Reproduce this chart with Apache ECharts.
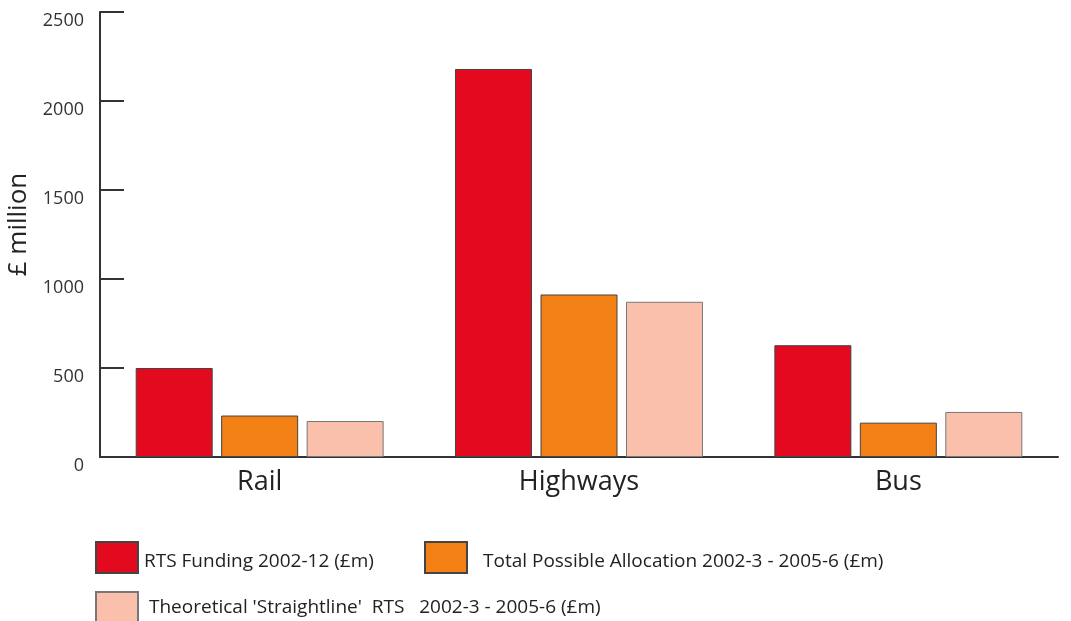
<!DOCTYPE html>
<html>
<head>
<meta charset="utf-8">
<script src="https://cdn.jsdelivr.net/npm/echarts@6/dist/echarts.min.js"></script>
<style>
  html, body { margin: 0; padding: 0; background: #fff; }
  #chart { width: 1071px; height: 621px; }
</style>
</head>
<body>
<div id="chart"></div>
<script>
// Transport funding by mode (£ million)
const categories = ['Rail', 'Highways', 'Bus'];
const rtsFunding = [500, 2180, 628];
const totalPossible = [233, 913, 193];
const straightline = [202, 872, 253];
const yTicks = { min: 0, max: 2500, step: 500 };

const seriesNames = [
  'RTS Funding 2002-12 (£m)',
  'Total Possible Allocation 2002-3 - 2005-6 (£m)',
  "Theoretical 'Straightline'  RTS   2002-3 - 2005-6 (£m)"
];

const FONT = '"Open Sans", "Noto Sans", sans-serif';
const AXIS = '#333333';

const chart = echarts.init(document.getElementById('chart'), null, { renderer: 'canvas' });

function bar(name, data, color, border) {
  return {
    type: 'bar',
    name: name,
    data: data,
    barWidth: 77,
    barGap: '11%',
    itemStyle: { color: color, borderColor: border, borderWidth: 1 }
  };
}

function legendAt(name, left, top, gap, drop) {
  return {
    data: [{ name: name, icon: 'rect' }],
    left: left,
    top: top,
    padding: 0,
    itemWidth: 42,
    itemHeight: 31,
    selectedMode: false,
    formatter: '{t|{name}}',
    textStyle: {
      fontFamily: FONT, fontSize: 19, color: '#222',
      rich: { t: { fontFamily: FONT, fontSize: 19, color: '#222', padding: [drop, 0, 0, gap] } }
    }
  };
}

chart.setOption({
  animation: false,
  backgroundColor: '#ffffff',
  grid: { left: 100, right: 13, top: 12, bottom: 164, containLabel: false, outerBoundsMode: 'none' },
  legend: [
    legendAt(seriesNames[0], 95, 541, 1, 8),
    legendAt(seriesNames[1], 424, 541, 11, 8),
    legendAt(seriesNames[2], 95, 591, 6, 0)
  ],
  xAxis: {
    type: 'category',
    data: categories,
    axisLine: { lineStyle: { color: AXIS, width: 2 } },
    axisTick: { inside: true, length: 10, lineStyle: { color: AXIS, width: 2 } },
    axisLabel: { fontFamily: FONT, fontSize: 27, color: '#222', margin: 12 },
    splitLine: { show: false }
  },
  yAxis: {
    type: 'value',
    min: yTicks.min,
    max: yTicks.max,
    interval: yTicks.step,
    name: '£ million',
    nameLocation: 'middle',
    nameGap: 52,
    nameRotate: 90,
    nameTextStyle: { fontFamily: FONT, fontSize: 26, color: '#222', padding: [0, 0, 0, 20] },
    axisLine: { show: true, lineStyle: { color: AXIS, width: 2 } },
    axisTick: { show: true, inside: true, length: 24, lineStyle: { color: AXIS, width: 2 } },
    axisLabel: {
      fontFamily: FONT, fontSize: 18, color: '#333', margin: 16, verticalAlign: 'top',
      formatter: function (v) { return String(v); }
    },
    splitLine: { show: false }
  },
  series: [
    bar(seriesNames[0], rtsFunding, '#e30a20', '#444444'),
    bar(seriesNames[1], totalPossible, '#f28014', '#444444'),
    bar(seriesNames[2], straightline, '#fbc0ab', '#777777')
  ]
});
</script>
</body>
</html>
